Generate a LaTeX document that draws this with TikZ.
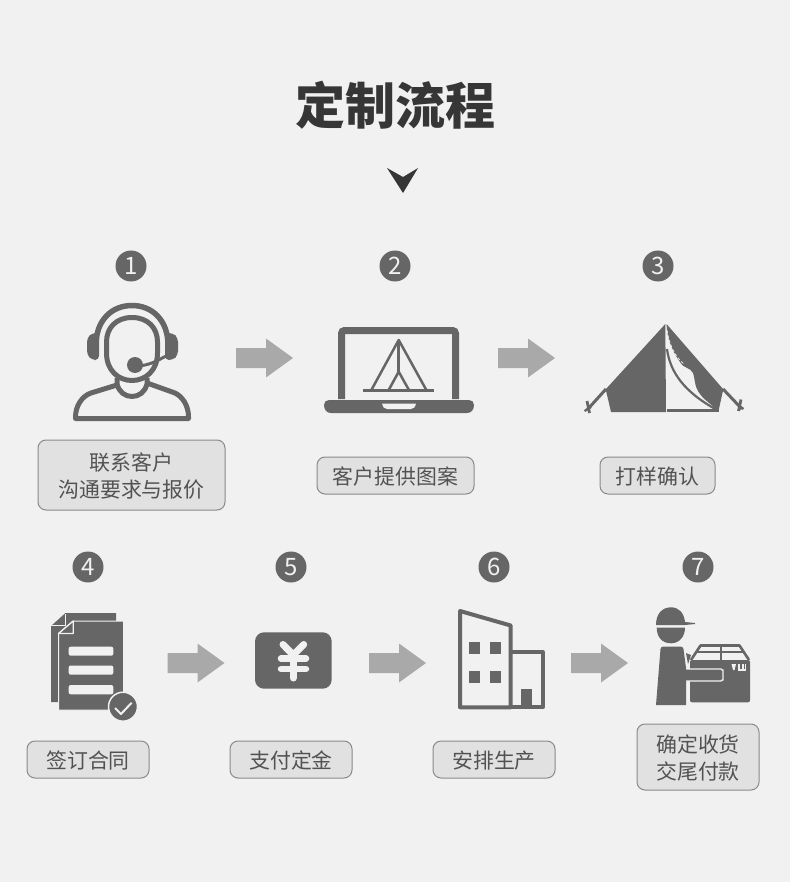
\documentclass[tikz,border=0pt]{standalone}
\usepackage{fontspec}
\setmainfont{Noto Sans CJK SC}
\usetikzlibrary{calc}
\definecolor{bgc}{HTML}{F1F1F1}
\definecolor{dk}{HTML}{666666}
\definecolor{arr}{HTML}{A9A9A9}
\definecolor{boxf}{HTML}{E1E1E1}
\definecolor{boxd}{HTML}{8A8A8A}
\definecolor{txt}{HTML}{525252}
\definecolor{ttl}{HTML}{363636}
\newcommand{\tl}{\rule[-4.5pt]{0pt}{26.5pt}}
\tikzset{
  numdot/.style={circle,fill=dk,minimum size=31pt,inner sep=0pt,text=bgc,font=\fontsize{24}{24}\selectfont},
  lab/.style={draw=boxd,line width=1pt,fill=boxf,rounded corners=8pt,inner sep=0pt,align=center,text=txt,font=\fontsize{20.9}{26.5}\selectfont},
  ink/.style={draw=dk,line width=5pt,line join=round},
  fillk/.style={fill=dk,draw=none},
  lite/.style={draw=bgc,line join=round},
  blockarrow/.style={fill=arr,draw=none}
}
\newcommand{\barrow}[2]{\fill[blockarrow] (#1,#2-10) -- ++(30,0) -- ++(0,-9.5) -- ++(27,19.5) -- ++(-27,19.5) -- ++(0,-9.5) -- ++(-30,0) -- cycle;}
\begin{document}
\begin{tikzpicture}[x=1pt,y=-1pt]
\useasboundingbox[fill=bgc] (0,0) rectangle (790,882);
% title
\node[text=ttl,font=\fontsize{50}{50}\selectfont\bfseries,inner sep=0pt] (title) at (395,105) {定制流程};
\fill[draw=none,fill=ttl] (387,168) -- (403,177) -- (418,168) -- (403,193) -- cycle;
% numbers
\node[numdot] (n1) at (131,266) {1};
\node[numdot] (n2) at (395,266) {2};
\node[numdot] (n3) at (658,266) {3};
\node[numdot] (n4) at (88,567) {4};
\node[numdot] (n5) at (291,567) {5};
\node[numdot] (n6) at (494,567) {6};
\node[numdot] (n7) at (698,567) {7};
% labels
\node[lab,minimum width=187pt,minimum height=70pt] (l1) at (131.5,475) {\tl 联系客户\\\tl 沟通要求与报价};
\node[lab,minimum width=157pt,minimum height=37pt] (l2) at (395.5,475.5) {\tl 客户提供图案};
\node[lab,minimum width=115pt,minimum height=37pt] (l3) at (657.5,475.5) {\tl 打样确认};
\node[lab,minimum width=122pt,minimum height=37pt] (l4) at (88,759.5) {\tl 签订合同};
\node[lab,minimum width=122pt,minimum height=37pt] (l5) at (291,759.5) {\tl 支付定金};
\node[lab,minimum width=122pt,minimum height=37pt] (l6) at (494,759.5) {\tl 安排生产};
\node[lab,minimum width=122pt,minimum height=66pt] (l7) at (698,757) {\tl 确定收货\\\tl 交尾付款};
% arrows
\barrow{236}{358}
\barrow{498}{358}
\barrow{167.5}{663}
\barrow{369}{663}
\barrow{571}{663}
% headset
\draw[ink,line width=5.5pt] (96,345) .. controls (96,320) and (112,305.5) .. (132,305.5) .. controls (152,305.5) and (168,320) .. (168,345);
\fill[fillk,rounded corners=4pt] (99,333) -- (92,333) -- (87,338) -- (87,355) -- (92,360) -- (99,360) -- cycle;
\fill[fillk,rounded corners=4pt] (165,333) -- (173,333) -- (178,338) -- (178,355) -- (173,360) -- (165,360) -- cycle;
\draw[ink] (132,317.5) .. controls (116,317.5) and (106.5,328) .. (106.5,342) -- (106.5,353) .. controls (106.5,370) and (118,380.5) .. (132,380.5) .. controls (146,380.5) and (157.5,370) .. (157.5,353) -- (157.5,342) .. controls (157.5,328) and (148,317.5) .. (132,317.5) -- cycle;
\fill[fillk] (135,365) circle (8);
\draw[dk,line width=3pt,line cap=round] (135,366) .. controls (150,366) and (158,360) .. (168,355);
\draw[ink] (117,378) -- (117,384) .. controls (119,392) and (125,396.5) .. (132,396.5) .. controls (139,396.5) and (145,392) .. (147,384) -- (147,378);
\draw[ink,line cap=butt] (117,385) -- (91,393) .. controls (82,396) and (75.5,406) .. (75.5,417) -- (75.5,418.5) -- (188.5,418.5) -- (188.5,417) .. controls (188.5,406) and (183,397) .. (175,393) -- (147,383);
% laptop
\draw[dk,line width=7pt,rounded corners=3pt] (341.5,399) -- (341.5,330.5) -- (455.5,330.5) -- (455.5,399);
\fill[fillk] (329,400) -- (469,400) .. controls (472,400) and (474,402) .. (474,405) .. controls (474,410) and (471,413) .. (467,413) -- (331,413) .. controls (327,413) and (324,410) .. (324,405) .. controls (324,402) and (326,400) .. (329,400) -- cycle;
\fill[bgc] (382,403.5) -- (416,403.5) .. controls (415,407) and (414,409) .. (411,409) -- (387,409) .. controls (384,409) and (383,407) .. (382,403.5) -- cycle;
\draw[dk,line width=2.5pt,line join=round] (363,390.7) -- (434,390.7);
\draw[dk,line width=2.5pt,line join=round] (371,390.7) -- (398.7,340) -- (426.7,390.7);
\draw[dk,line width=2.5pt,line join=round] (398.7,340) -- (398.7,371.7);
\draw[dk,line width=2.5pt,line join=round] (388.3,390.7) -- (398.7,371.7) -- (409.3,390.7);
% tent
\fill[fillk] (665.3,324) -- (605.7,389.3) -- (611,412) -- (666,412) -- cycle;
\fill[fillk] (666.5,324) -- (723.3,389.3) -- (718.3,411.7) .. controls (712,404) and (703,400) .. (698,391) .. controls (694,384) and (695,378) .. (693,373) .. controls (690,367) and (684,369) .. (680,362) .. controls (675,355) and (669,345) .. (667,330) -- cycle;
\draw[bgc,line width=0.7pt,dash pattern=on 3pt off 2pt] (667,330) .. controls (669,345) and (676,358) .. (684,364);
\draw[dk,line width=2.2pt] (667,349) .. controls (670,372) and (684,392) .. (717,410);
\fill[fillk] (667,409) rectangle (718.5,412);
\draw[dk,line width=3pt] (606,389) -- (587,410);
\draw[dk,line width=2.8pt] (587,401) -- (589.5,413);
\draw[dk,line width=2.2pt] (584.5,411) -- (591,407);
\draw[dk,line width=3pt] (723,389) -- (742,409);
\draw[dk,line width=2.8pt] (741,399.5) -- (738.5,411);
\draw[dk,line width=2.2pt] (737,404) -- (743.5,409);
% documents
\fill[fillk] (65.5,613) -- (116,613) -- (116,702) -- (51,702) -- (51,626) -- cycle;
\draw[lite,line width=1pt] (65,613.5) -- (65,625.5) -- (51,625.5);
\fill[fillk,draw=bgc,line width=1pt] (73,621) -- (123.5,621) -- (123.5,710) -- (58.5,710) -- (58.5,633.5) -- cycle;
\draw[lite,line width=1.2pt] (73.3,621) -- (73.3,633.5) -- (58.5,633.5) -- cycle;
\fill[bgc,rounded corners=2pt] (68.7,646.7) rectangle (113.3,655.7);
\fill[bgc,rounded corners=2pt] (68.7,665.5) rectangle (113.3,674.7);
\fill[bgc,rounded corners=2pt] (68.7,685) rectangle (113.3,694.3);
\fill[fill=dk,draw=bgc,line width=1.5pt] (123,706.7) circle (14.5);
\draw[bgc,line width=2pt,line join=round] (115,708) -- (121,714) -- (131.7,702.7);
% yen card
\fill[fillk,rounded corners=9pt] (255,632.3) rectangle (331.7,688.7);
\draw[bgc,line width=7pt,line cap=round,line join=round] (283,644.5) -- (293.3,655) -- (303.7,644.5);
\draw[bgc,line width=7pt,line cap=round] (293.3,655) -- (293.3,678);
\draw[bgc,line width=6.5pt,line cap=round] (281,658.5) -- (306,658.5);
\draw[bgc,line width=6.5pt,line cap=round] (281,669) -- (306,669);
% building
\draw[dk,line width=4pt,line join=round] (460,611) -- (510.7,625.5) -- (510.7,707.3) -- (460,707.3) -- cycle;
\draw[dk,line width=4pt,line join=round] (510.7,652) -- (542.7,652) -- (542.7,707.3) -- (510.7,707.3);
\fill[fillk] (469.3,642.3) rectangle (480,654.3);
\fill[fillk] (490,642.3) rectangle (500.7,654.3);
\fill[fillk] (469.3,670.7) rectangle (480,683.3);
\fill[fillk] (490,670.7) rectangle (500.7,683.3);
\fill[fillk] (520.7,689.3) rectangle (531.7,707);
% delivery person
\fill[fillk] (656,625) .. controls (656,614) and (662,607.3) .. (671,607.3) .. controls (679,607.3) and (684,613) .. (685,622) -- (695,623) -- (695,624) -- (685,625) -- cycle;
\fill[fillk] (656.7,627.5) -- (685,627.5) .. controls (685,637) and (679,643.3) .. (671,643.3) .. controls (662,643.3) and (656.7,637) .. (656.7,627.5) -- cycle;
\fill[fillk,rounded corners=2pt] (690,660) rectangle (750,702.3);
\draw[dk,line width=2.6pt,line join=round] (691,660) -- (700.5,645.5) -- (739.5,645.5) -- (749,660);
\draw[dk,line width=2.6pt] (721,645.5) -- (721,660);
\draw[dk,line width=2.6pt] (697,652) -- (744,652);
\fill[fillk] (686,653) -- (691,655) -- (688,664) -- cycle;
\fill[bgc] (731.5,664) -- (736,664) -- (734.5,670) -- (733,670) -- cycle;
\fill[bgc] (738,664) rectangle (739.5,670);
\fill[bgc] (742,664) rectangle (743.5,670);
\fill[bgc] (745,664) rectangle (746,670);
\fill[bgc] (738,669) rectangle (746,670.5);
\fill[fill=dk,draw=bgc,line width=1.3pt,rounded corners=5pt] (686,669) -- (716,669) .. controls (721,669) and (723,671) .. (723,675) .. controls (723,679) and (721,681) .. (716,681) -- (686,681);
\fill[fillk] (660.5,649) .. controls (660.5,647) and (662,646.5) .. (664,646.5) -- (680,646.5) .. controls (682,646.5) and (683,647) .. (683.5,649) -- (686,668) -- (686,705) -- (656,705) -- cycle;
\fill[fillk] (685,670) rectangle (690,680);
\end{tikzpicture}
\end{document}
